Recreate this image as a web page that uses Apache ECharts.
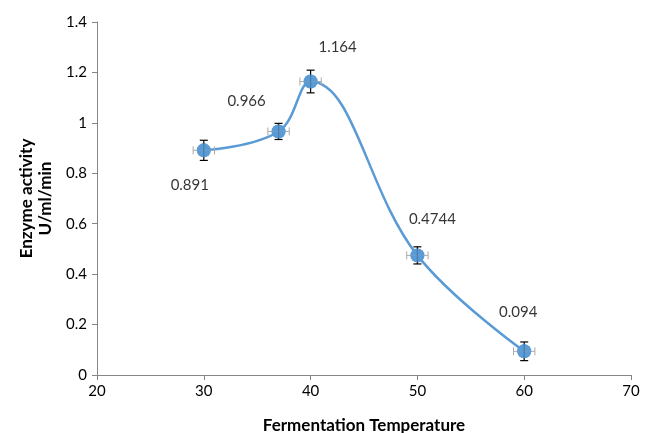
<!DOCTYPE html>
<html><head><meta charset="utf-8">
<script src="https://cdn.jsdelivr.net/npm/echarts@6/dist/echarts.min.js"></script>
<style>html,body{margin:0;padding:0;background:#fff}#c{width:651px;height:433px}</style>
</head><body><div id="c"></div>
<script>
const temps = [30, 37, 40, 50, 60];
const activity = [0.891, 0.966, 1.164, 0.4744, 0.094];
const labels = ['0.891', '0.966', '1.164', '0.4744', '0.094'];
const yErr = [0.04, 0.032, 0.045, 0.034, 0.037];
const xErr = [1.0, 1.0, 1.0, 1.0, 1.0];
const xTicks = [20, 30, 40, 50, 60, 70];
const yTicks = [0, 0.2, 0.4, 0.6, 0.8, 1, 1.2, 1.4];

const labelOffsets = [[-14, 35], [-32, -30], [27, -34], [15, -36], [-6, -39]];
const FONT = 'Lato, "Open Sans", sans-serif';
const chart = echarts.init(document.getElementById('c'));
const pts = temps.map((t, i) => [t, activity[i]]);
chart.setOption({
  animation: false,
  grid: {left: 97, right: 20, top: 22, bottom: 58, containLabel: false, outerBoundsMode: 'none'},
  xAxis: {
    type: 'value', min: 20, max: 70, interval: 10,
    name: 'Fermentation Temperature', nameLocation: 'middle', nameGap: 42,
    nameTextStyle: {fontFamily: FONT, fontWeight: 'bold', fontSize: 17, color: '#000'},
    axisLine: {show: true, lineStyle: {color: '#868686'}},
    axisTick: {show: true, length: 5, lineStyle: {color: '#868686'}},
    axisLabel: {fontFamily: FONT, fontSize: 15, color: '#000', margin: 9},
    splitLine: {show: false}
  },
  yAxis: {
    type: 'value', min: 0, max: 1.4, interval: 0.2,
    name: 'Enzyme activity\nU/ml/min', nameLocation: 'middle', nameGap: 40,
    nameTextStyle: {fontFamily: FONT, fontWeight: 'bold', fontSize: 17, color: '#000', lineHeight: 19},
    axisLine: {show: true, lineStyle: {color: '#868686'}},
    axisTick: {show: true, length: 5, lineStyle: {color: '#868686'}},
    axisLabel: {fontFamily: FONT, fontSize: 15, color: '#000', margin: 10,
      formatter: v => String(Math.round(v * 10) / 10)},
    splitLine: {show: false}
  },
  series: [
    {
      type: 'line', data: pts, smooth: 0.4, symbol: 'circle', symbolSize: 14,
      lineStyle: {color: '#5B9BD5', width: 2.5},
      itemStyle: {color: '#5B9BD5'},
      z: 2
    },
    {
      type: 'custom', z: 3,
      data: pts.map((p, i) => [p[0], p[1], xErr[i], yErr[i]]),
      renderItem: function (params, api) {
        const x = api.value(0), y = api.value(1), ex = api.value(2), ey = api.value(3);
        const c = api.coord([x, y]);
        const top = api.coord([x, y + ey]), bot = api.coord([x, y - ey]);
        const lft = api.coord([x - ex, y]), rgt = api.coord([x + ex, y]);
        const cap = 4;
        const black = {stroke: '#000', lineWidth: 1.2};
        const gray = {stroke: '#aaa', lineWidth: 1};
        return {type: 'group', children: [
          {type: 'line', shape: {x1: lft[0], y1: c[1], x2: rgt[0], y2: c[1]}, style: gray},
          {type: 'line', shape: {x1: lft[0], y1: c[1] - cap, x2: lft[0], y2: c[1] + cap}, style: gray},
          {type: 'line', shape: {x1: rgt[0], y1: c[1] - cap, x2: rgt[0], y2: c[1] + cap}, style: gray},
          {type: 'line', shape: {x1: c[0], y1: top[1], x2: c[0], y2: bot[1]}, style: black},
          {type: 'line', shape: {x1: c[0] - cap, y1: top[1], x2: c[0] + cap, y2: top[1]}, style: black},
          {type: 'line', shape: {x1: c[0] - cap, y1: bot[1], x2: c[0] + cap, y2: bot[1]}, style: black}
        ]};
      }
    },
    {
      type: 'scatter', data: pts, symbolSize: 14, z: 4,
      itemStyle: {color: '#5B9BD5'},
      label: {
        show: true, position: 'inside', fontFamily: FONT, fontSize: 15, color: '#000',
        formatter: p => labels[p.dataIndex]
      },
      labelLayout: function (p) {
        const o = labelOffsets[p.dataIndex];
        return {dx: o[0], dy: o[1]};
      }
    }
  ]
});
</script></body></html>
